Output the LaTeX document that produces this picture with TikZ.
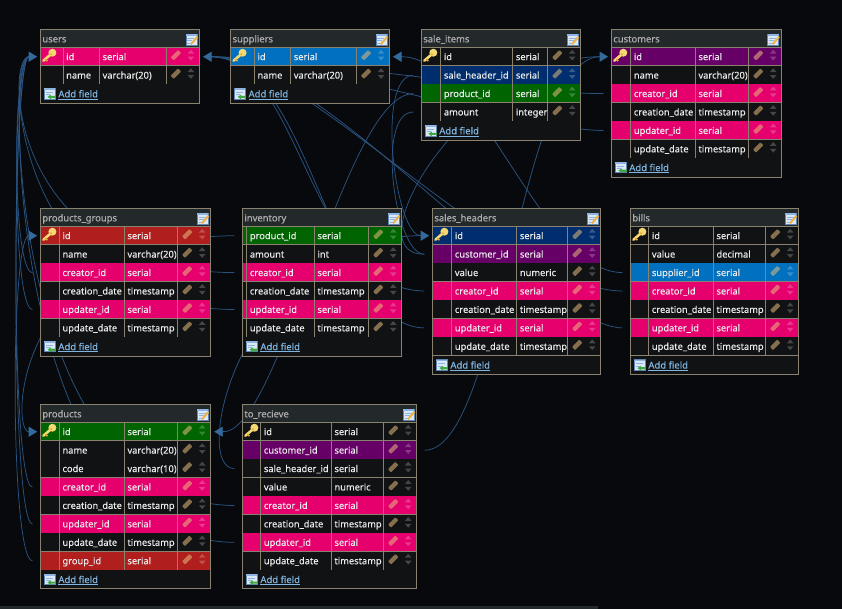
\documentclass[tikz,border=0pt]{standalone}
\usepackage{fontspec}
\setmainfont{Noto Sans}
\newfontfamily\rowfont[FakeBold=0.25]{Noto Sans}
\newfontfamily\headfont[FakeBold=0.7]{Noto Sans}
\usetikzlibrary{backgrounds,arrows.meta}
\definecolor{pagebg}{HTML}{08090C}
\definecolor{tbody}{HTML}{111214}
\definecolor{ttitle}{HTML}{23282B}
\definecolor{tedge}{HTML}{8A8270}
\definecolor{rowd}{HTML}{111214}
\definecolor{rpink}{HTML}{E5006D}
\definecolor{rblue}{HTML}{0070BF}
\definecolor{rnavy}{HTML}{002D6D}
\definecolor{rgreen}{HTML}{006400}
\definecolor{rpurple}{HTML}{660066}
\definecolor{rred}{HTML}{B01E1E}
\definecolor{fkline}{HTML}{2A5480}
\definecolor{fkhead}{HTML}{336A9E}
\definecolor{linkc}{HTML}{7FB5E0}
\definecolor{keya}{HTML}{F6D873}
\definecolor{keyb}{HTML}{E2A93B}
\definecolor{pencilc}{HTML}{E6BC7C}
\definecolor{iconpale}{HTML}{DCE8F6}
\definecolor{iconblue}{HTML}{8DB4E2}
\definecolor{iconedge}{HTML}{5F86B3}
\definecolor{iconorange}{HTML}{F0B040}
\definecolor{icongreen}{HTML}{3FA845}
\tikzset{
  fk/.style={draw=fkline,line width=0.75pt},
  fkarrow/.style={fkhead,line width=0.8pt,-{Triangle[length=8.5pt,width=10pt]}},
  cellline/.style={draw=tedge,line width=0.9pt},
  rowtxt/.style={anchor=base west,inner sep=0pt,outer sep=0pt,text=white!92!black,font=\rowfont\fontsize{9.3}{11}\selectfont},
  titletxt/.style={anchor=base west,inner sep=0pt,outer sep=0pt,text=white!68!black,font=\headfont\fontsize{9.4}{11}\selectfont},
  linktxt/.style={anchor=base west,inner sep=0pt,outer sep=0pt,text=linkc,font=\rowfont\fontsize{9.5}{11}\selectfont},
}
\newcommand{\keyicon}[2]{%
  \begin{scope}[shift={(#1,#2)}]
    \draw[line width=2.6pt,color=keya,line cap=round] (1,-1) -- (-6,5);
    \draw[line width=1.6pt,color=keyb] (-4,3.4) -- (-2,5.4);
    \fill[color=keya] (3,-3) circle (4);
    \fill[color=keyb] (1.6,-1.4) circle (1.1);
  \end{scope}}
\newcommand{\rowwidgets}[2]{%
  \begin{scope}[shift={(#1,#2)}]
    \fill[color=pencilc,opacity=.55,rotate=45,rounded corners=.8pt] (-5.2,-2.2) rectangle (5.2,2.2);
    \fill[white,opacity=.22] (15,-5.4) -- (18.3,-1.6) -- (11.7,-1.6) -- cycle;
    \fill[white,opacity=.22] (15,5.2) -- (18.3,1.4) -- (11.7,1.4) -- cycle;
  \end{scope}}
\newcommand{\titleicon}[2]{%
  \begin{scope}[shift={(#1,#2)}]
    \fill[color=iconpale,draw=iconedge,line width=.4pt] (-5.5,-5.5) rectangle (5.5,5.5);
    \fill[color=iconblue] (-5.5,-5.5) rectangle (5.5,-3.4);
    \draw[color=iconblue,line width=.4pt] (-4,-1) -- (3,-1) (-4,1.3) -- (1,1.3) (-4,3.5) -- (0,3.5);
    \draw[color=iconorange,line width=1.9pt] (-0.5,5) -- (6,-2.5);
  \end{scope}}
\newcommand{\addicon}[2]{%
  \begin{scope}[shift={(#1,#2)}]
    \fill[color=iconpale,draw=iconedge,line width=.4pt] (-5.5,-5.5) rectangle (5,5);
    \fill[color=iconblue] (-5.5,-5.5) rectangle (5,-3.6);
    \draw[color=iconblue,line width=.4pt] (-4,-1.5) -- (3,-1.5) (-4,.8) -- (0,.8);
    \fill[color=icongreen] (-2.5,3) -- (1,.8) -- (1,2) -- (6,2) -- (6,4.2) -- (1,4.2) -- (1,5.4) -- cycle;
  \end{scope}}
% name, title, x0,x1,x2,x3,x4, ytop, rows
\newcommand{\erdtable}[9]{%
  \foreach \cc/\kk/\nn/\ty [count=\i] in {#9} {
    \pgfmathsetmacro{\ya}{#8+18.2+(\i-1)*18.44}
    \pgfmathsetmacro{\yb}{\ya+18.44}
    \pgfmathsetmacro{\ym}{\ya+9.22}
    \fill[color=\cc] (#3,\ya) rectangle (#7,\yb);
    \draw[cellline] (#3,\yb) -- (#7,\yb) (#4,\ya) -- (#4,\yb) (#5,\ya) -- (#5,\yb) (#6,\ya) -- (#6,\yb);
    \node[rowtxt] (#1-\i-n) at (#4+3.2,\ym+3.4) {\nn};
    \node[rowtxt] (#1-\i-t) at (#5+3.2,\ym+3.4) {\ty};
    \rowwidgets{#6+9.5}{\ym-1.5}
    \ifnum\kk=1 \keyicon{#3+9}{\ym-1}\fi
    \coordinate (#1-\i-w) at (#3-8,\ym);
    \coordinate (#1-\i-e) at (#7+8,\ym);
    \coordinate (#1-\i-wb) at (#3-11.5,\ym);
    \coordinate (#1-\i-wt) at (#3-3.2,\ym);
    \coordinate (#1-\i-eb) at (#7+12.5,\ym);
    \coordinate (#1-\i-et) at (#7+3.5,\ym);
    \xdef\lastbottom{\yb}
  }
  \pgfmathsetmacro{\ybot}{\lastbottom+18.9}
  \fill[color=tbody] (#3,\lastbottom) rectangle (#7,\ybot);
  \fill[color=ttitle] (#3,#8) rectangle (#7,#8+18.2);
  \draw[cellline] (#3,#8) rectangle (#7,\ybot);
  \draw[cellline] (#3,#8+18.2) -- (#7,#8+18.2);
  \node[titletxt] (#1-title) at (#3+2,#8+13) {#2};
  \titleicon{#7-8.2}{#8+10}
  \addicon{#3+9.5}{\lastbottom+9.5}
  \node[linktxt] (#1-add) at (#3+18,\lastbottom+13) {\underline{Add field}};
}
\begin{document}
\begin{tikzpicture}[x=1pt,y=-1pt]
\useasboundingbox (0,0) rectangle (842,609);
\begin{scope}[on background layer]
  \fill[pagebg] (0,0) rectangle (842,609);
  \fill[color=ttitle] (0,606) rectangle (598,609);
\end{scope}

\erdtable{users}{users}{40.4}{63}{99.4}{166.4}{199.6}{29.3}{rpink/1/id/serial,rowd/0/name/varchar(20)}
\erdtable{suppliers}{suppliers}{230.6}{254.3}{290.6}{356.6}{389.5}{29.3}{rblue/1/id/serial,rowd/0/name/varchar(20)}
\erdtable{saleitems}{sale\_items}{421.3}{440.7}{512.7}{547.7}{580.7}{29.3}{rowd/1/id/serial,rnavy/0/sale\_header\_id/serial,rgreen/0/product\_id/serial,rowd/0/amount/integer}
\erdtable{customers}{customers}{611.3}{630.7}{695.3}{748.7}{781.3}{29.3}{rpurple/1/id/serial,rowd/0/name/varchar(20),rpink/0/creator\_id/serial,rowd/0/creation\_date/timestamp,rpink/0/updater\_id/serial,rowd/0/update\_date/timestamp}
\erdtable{pgroups}{products\_groups}{40.4}{59.3}{124.3}{177.7}{210.7}{208.3}{rred/1/id/serial,rowd/0/name/varchar(20),rpink/0/creator\_id/serial,rowd/0/creation\_date/timestamp,rpink/0/updater\_id/serial,rowd/0/update\_date/timestamp}
\erdtable{inventory}{inventory}{242.4}{246.7}{314.3}{368.7}{401.7}{208.3}{rgreen/0/product\_id/serial,rowd/0/amount/int,rpink/0/creator\_id/serial,rowd/0/creation\_date/timestamp,rpink/0/updater\_id/serial,rowd/0/update\_date/timestamp}
\erdtable{sheaders}{sales\_headers}{432.4}{451.7}{516.7}{567.7}{600.7}{208.3}{rnavy/1/id/serial,rpurple/0/customer\_id/serial,rowd/0/value/numeric,rpink/0/creator\_id/serial,rowd/0/creation\_date/timestamp,rpink/0/updater\_id/serial,rowd/0/update\_date/timestamp}
\erdtable{bills}{bills}{630.4}{648.7}{713.3}{765.7}{798.7}{208.3}{rowd/1/id/serial,rowd/0/value/decimal,rblue/0/supplier\_id/serial,rpink/0/creator\_id/serial,rowd/0/creation\_date/timestamp,rpink/0/updater\_id/serial,rowd/0/update\_date/timestamp}
\erdtable{products}{products}{40.4}{59.3}{124.3}{177.7}{210.7}{404.3}{rgreen/1/id/serial,rowd/0/name/varchar(20),rowd/0/code/varchar(10),rpink/0/creator\_id/serial,rowd/0/creation\_date/timestamp,rpink/0/updater\_id/serial,rowd/0/update\_date/timestamp,rred/0/group\_id/serial}
\erdtable{torecieve}{to\_recieve}{242.4}{260.7}{331.3}{383.7}{416.7}{404.3}{rowd/1/id/serial,rpurple/0/customer\_id/serial,rowd/0/sale\_header\_id/serial,rowd/0/value/numeric,rpink/0/creator\_id/serial,rowd/0/creation\_date/timestamp,rpink/0/updater\_id/serial,rowd/0/update\_date/timestamp}

\begin{scope}[on background layer]
  % to users.id, left side
  \draw[fk] (pgroups-3-w) .. controls (12,272) and (12,57) .. (users-1-wb);
  \draw[fk] (pgroups-5-w) .. controls (12,309) and (12,57) .. (users-1-wb);
  \draw[fk] (products-4-w) .. controls (10,487) and (12,57) .. (users-1-wb);
  \draw[fk] (products-6-w) .. controls (10,524) and (12,57) .. (users-1-wb);
  \draw[fk] (inventory-3-w) .. controls (8,272) and (5,57) .. (users-1-wb);
  \draw[fk] (inventory-5-w) .. controls (12,309) and (5,57) .. (users-1-wb);
  \draw[fk] (torecieve-5-w) .. controls (10,505) and (5,57) .. (users-1-wb);
  \draw[fk] (torecieve-7-w) .. controls (10,541) and (5,57) .. (users-1-wb);
  % to users.id, right side
  \draw[fk] (customers-3-w) .. controls (520,94) and (300,58) .. (users-1-eb);
  \draw[fk] (customers-5-w) .. controls (520,130) and (300,58) .. (users-1-eb);
  \draw[fk] (sheaders-4-w) .. controls (310,290) and (300,58) .. (users-1-eb);
  \draw[fk] (sheaders-6-w) .. controls (330,327) and (310,58) .. (users-1-eb);
  \draw[fk] (bills-4-w) .. controls (510,290) and (300,58) .. (users-1-eb);
  \draw[fk] (bills-6-w) .. controls (540,326) and (320,58) .. (users-1-eb);
  % others
  \draw[fk] (bills-3-w) .. controls (540,272) and (480,58) .. (suppliers-1-eb);
  \draw[fk] (products-8-w) .. controls (10,560) and (10,236) .. (pgroups-1-wb);
  \draw[fk] (inventory-1-w) .. controls (15,237) and (10,432) .. (products-1-wb);
  \draw[fk] (saleitems-3-w) .. controls (345,94) and (280,432) .. (products-1-eb);
  \draw[fk] (torecieve-3-w) .. controls (190,469) and (240,236) .. (sheaders-1-wb);
  \draw[fk] (saleitems-2-w) .. controls (375,76) and (395,236) .. (sheaders-1-wb);
  \draw[fk] (saleitems-4-w) .. controls (375,112) and (395,255) .. (sheaders-2-w);
  \draw[fk] (sheaders-2-w) .. controls (350,255) and (470,57) .. (customers-1-wb);
  \draw[fk] (torecieve-2-e) .. controls (500,451) and (520,57) .. (customers-1-wb);
\end{scope}
\draw[fkarrow] (users-1-wb) -- (users-1-wt);
\draw[fkarrow] (users-1-eb) -- (users-1-et);
\draw[fkarrow] (suppliers-1-eb) -- (suppliers-1-et);
\draw[fkarrow] (customers-1-wb) -- (customers-1-wt);
\draw[fkarrow] (pgroups-1-wb) -- (pgroups-1-wt);
\draw[fkarrow] (sheaders-1-wb) -- (sheaders-1-wt);
\draw[fkarrow] (products-1-wb) -- (products-1-wt);
\draw[fkarrow] (products-1-eb) -- (products-1-et);
\end{tikzpicture}
\end{document}
